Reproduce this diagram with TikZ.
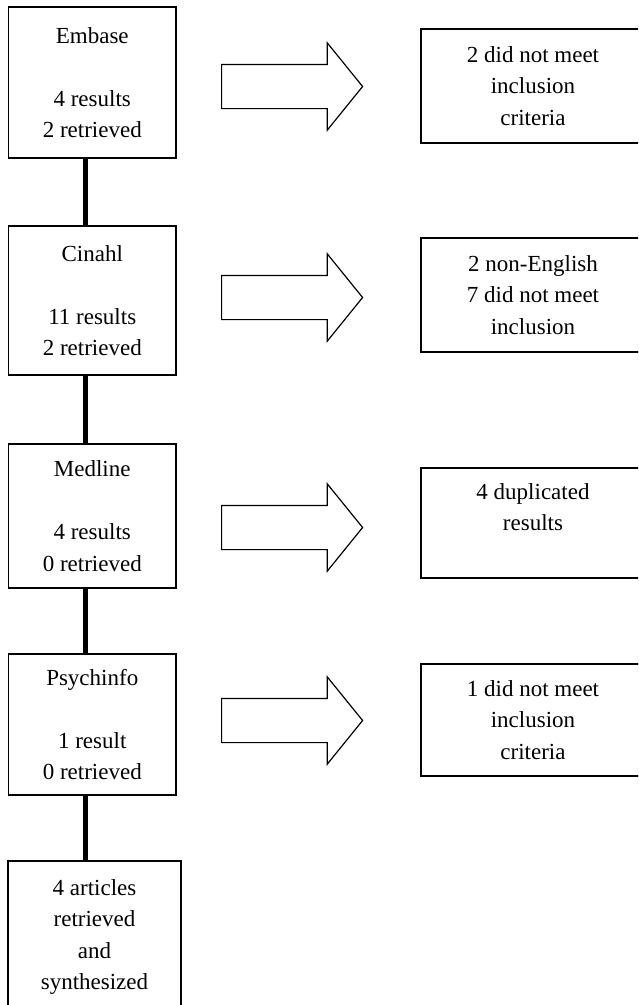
\documentclass[tikz,border=0pt]{standalone}
\usepackage{fontspec}
\setmainfont{Liberation Serif}
\usetikzlibrary{shapes.arrows, positioning}

\begin{document}
\begin{tikzpicture}[
        x=1pt, y=-1pt,
        db node/.style={rectangle, draw, line width=1.2pt, inner sep=0pt,
          minimum width=167.5pt, align=center,
          font=\fontsize{23}{31.5}\selectfont},
        excl node/.style={rectangle, draw, line width=1.2pt, inner sep=0pt,
          minimum width=224pt, align=center,
          font=\fontsize{23}{31.5}\selectfont},
        block arrow/.style={single arrow, draw, line width=1.2pt,
          inner xsep=0pt, inner ysep=21.5pt, minimum height=141pt,
          single arrow head extend=21.5pt, single arrow tip angle=102,
          anchor=tail},
        link/.style={draw, line width=5pt}
      ]
      \useasboundingbox (0,0) rectangle (638,1005);
      \clip (0,0) rectangle (638,1005);

      % Database boxes
      \node[db node, minimum height=151pt] (B1) at (92.25,82.5)
        {Embase\\[31.5pt]4 results\\2 retrieved};
      \node[db node, minimum height=149pt] (B2) at (92.25,300.5)
        {Cinahl\\[31.5pt]11 results\\2 retrieved};
      \node[db node, minimum height=144pt] (B3) at (92.25,516)
        {Medline\\[31.5pt]4 results\\0 retrieved};
      \node[db node, minimum height=141pt] (B4) at (92.25,724.5)
        {Psychinfo\\[31.5pt]1 result\\0 retrieved};
      \node[db node, minimum width=173pt, minimum height=152pt] (B5) at (94.5,937)
        {4 articles\\retrieved\\and\\synthesized};

      % Excluded boxes
      \node[excl node, minimum height=114pt] (R1) at (533,86)
        {2 did not meet\\inclusion\\criteria};
      \node[excl node, minimum height=114pt] (R2) at (533,295)
        {2 non-English\\7 did not meet\\inclusion};
      \node[excl node, minimum height=110pt] (R3) at (533,523)
        {4 duplicated\\results\\\mbox{}};
      \node[excl node, minimum height=112pt] (R4) at (533,720)
        {1 did not meet\\inclusion\\criteria};

      % Block arrows
      \node[block arrow] (A1) at (221,86.5) {};
      \node[block arrow] (A2) at (221,297.5) {};
      \node[block arrow] (A3) at (221,527.5) {};
      \node[block arrow] (A4) at (221,720.5) {};

      % Links
      \draw[link] ([xshift=-6.75pt]B1.south) -- ([xshift=-6.75pt]B1.south |- B2.north);
      \draw[link] ([xshift=-6.75pt]B2.south) -- ([xshift=-6.75pt]B2.south |- B3.north);
      \draw[link] ([xshift=-6.75pt]B3.south) -- ([xshift=-6.75pt]B3.south |- B4.north);
      \draw[link] ([xshift=-6.75pt]B4.south) -- ([xshift=-6.75pt]B4.south |- B5.north);
    \end{tikzpicture}
\end{document}
